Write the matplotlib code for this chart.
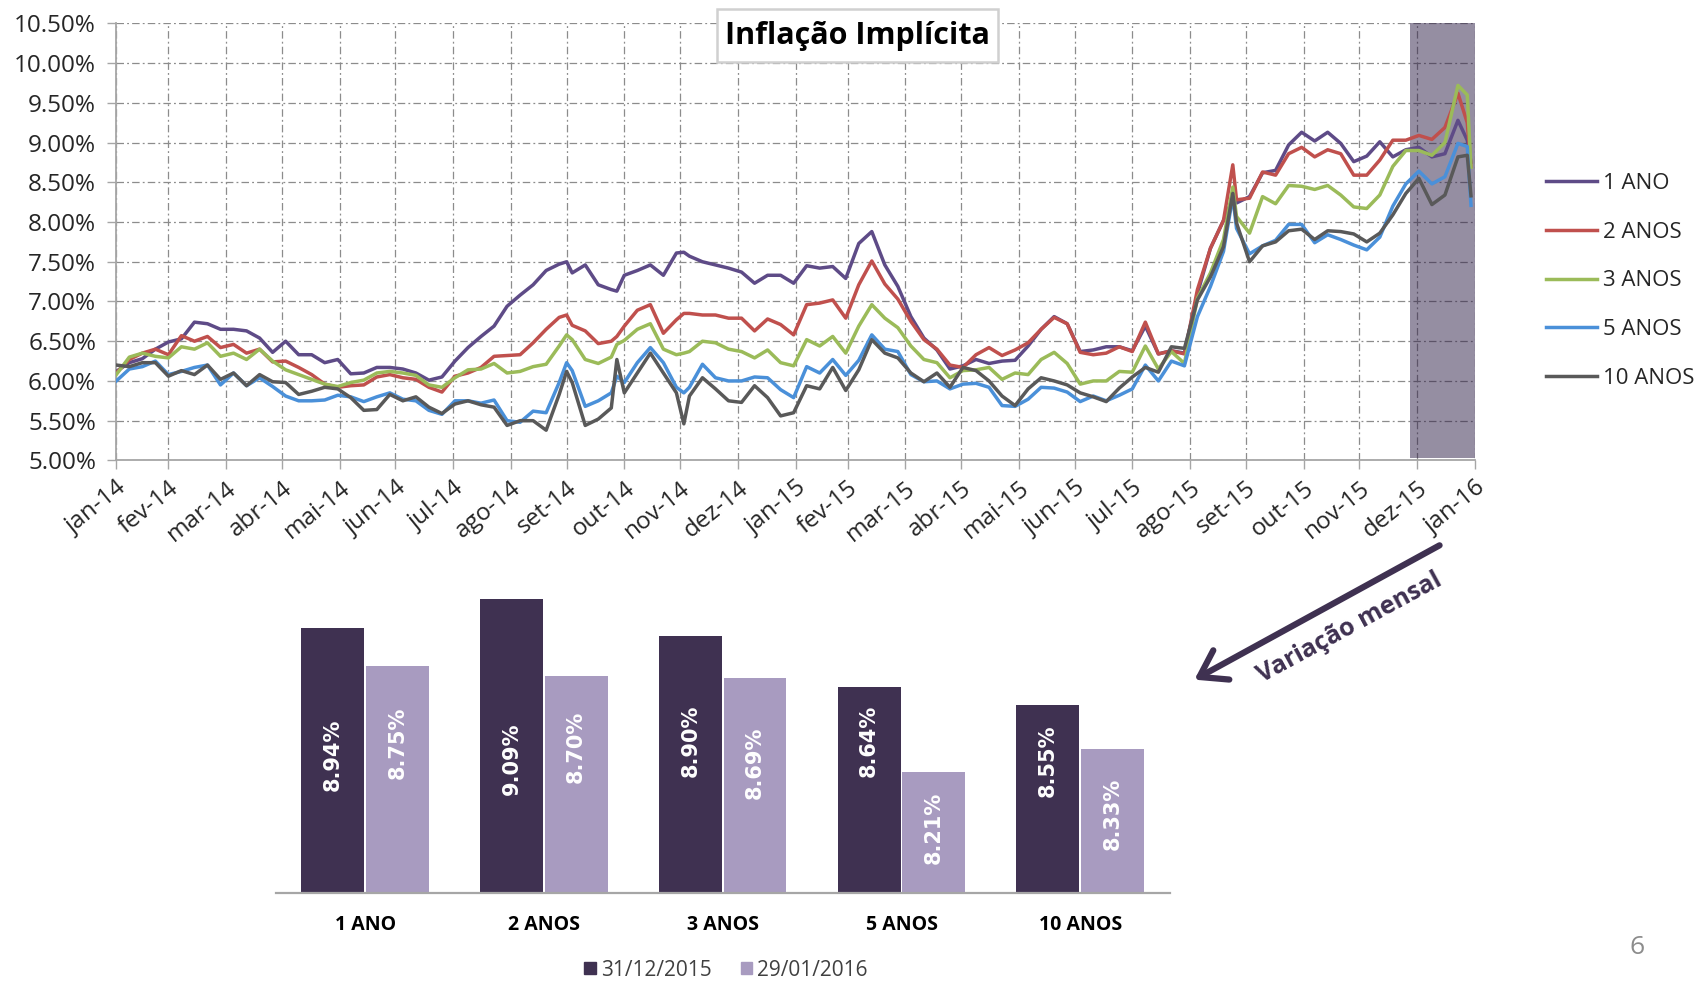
import matplotlib
matplotlib.use("Agg")
import matplotlib.pyplot as plt
import numpy as np
import pandas as pd
from matplotlib.patches import FancyArrowPatch, Patch, Rectangle

plt.rcParams['font.family'] = ['Open Sans', 'DejaVu Sans']

# ---------------- line chart data ----------------
week_dates = pd.date_range('2014-01-31', '2016-01-29', freq='7D')
extra_dates = pd.to_datetime(['2014-09-30', '2014-10-27', '2014-12-02', '2015-09-23', '2016-01-27'])

series_names = ['1 ANO', '2 ANOS', '3 ANOS', '5 ANOS', '10 ANOS']

ano1 = [6.12, 6.23, 6.28, 6.40, 6.49, 6.53, 6.74, 6.72, 6.65, 6.65,
        6.63, 6.54, 6.36, 6.50, 6.33, 6.33, 6.23, 6.27, 6.09, 6.10,
        6.17, 6.17, 6.15, 6.10, 6.01, 6.05, 6.25, 6.42, 6.56, 6.69,
        6.94, 7.08, 7.21, 7.39, 7.47, 7.36, 7.46, 7.21, 7.15, 7.33,
        7.39, 7.46, 7.33, 7.61, 7.57, 7.50, 7.46, 7.42, 7.37, 7.23,
        7.33, 7.33, 7.23, 7.45, 7.42, 7.44, 7.29, 7.73, 7.88, 7.46,
        7.19, 6.81, 6.54, 6.39, 6.15, 6.19, 6.27, 6.22, 6.25, 6.26,
        6.44, 6.65, 6.81, 6.72, 6.37, 6.39, 6.43, 6.43, 6.38, 6.69,
        6.34, 6.38, 6.35, 7.10, 7.67, 8.02, 8.24, 8.32, 8.62, 8.65,
        8.97, 9.13, 9.02, 9.13, 8.99, 8.76, 8.83, 9.01, 8.82, 8.91,
        8.94, 8.82, 8.86, 9.28, 8.75]
ano2 = [6.10, 6.27, 6.35, 6.40, 6.33, 6.57, 6.50, 6.56, 6.42, 6.46,
        6.35, 6.40, 6.24, 6.25, 6.17, 6.08, 5.96, 5.92, 5.94, 5.95,
        6.05, 6.08, 6.04, 6.02, 5.92, 5.86, 6.06, 6.10, 6.17, 6.31,
        6.32, 6.33, 6.48, 6.65, 6.80, 6.70, 6.63, 6.47, 6.50, 6.69,
        6.89, 6.96, 6.60, 6.77, 6.85, 6.83, 6.83, 6.79, 6.79, 6.63,
        6.78, 6.71, 6.58, 6.96, 6.98, 7.02, 6.79, 7.21, 7.51, 7.22,
        7.03, 6.75, 6.52, 6.40, 6.20, 6.17, 6.33, 6.42, 6.32, 6.39,
        6.48, 6.65, 6.80, 6.72, 6.36, 6.33, 6.35, 6.43, 6.37, 6.74,
        6.34, 6.38, 6.34, 7.15, 7.67, 8.02, 8.28, 8.30, 8.63, 8.59,
        8.86, 8.94, 8.82, 8.91, 8.86, 8.59, 8.59, 8.78, 9.03, 9.03,
        9.09, 9.04, 9.19, 9.62, 8.70]
ano3 = [6.08, 6.30, 6.35, 6.31, 6.29, 6.43, 6.40, 6.48, 6.31, 6.35,
        6.27, 6.40, 6.25, 6.14, 6.08, 6.02, 5.96, 5.93, 5.98, 6.01,
        6.10, 6.12, 6.10, 6.07, 5.95, 5.92, 6.04, 6.14, 6.15, 6.22,
        6.10, 6.12, 6.18, 6.21, 6.44, 6.52, 6.27, 6.22, 6.30, 6.51,
        6.65, 6.72, 6.40, 6.33, 6.37, 6.50, 6.48, 6.40, 6.37, 6.29,
        6.39, 6.23, 6.19, 6.52, 6.44, 6.56, 6.35, 6.69, 6.96, 6.79,
        6.67, 6.44, 6.27, 6.23, 6.04, 6.13, 6.14, 6.17, 6.02, 6.10,
        6.08, 6.27, 6.36, 6.22, 5.96, 6.00, 6.00, 6.12, 6.11, 6.44,
        6.15, 6.37, 6.22, 7.04, 7.36, 7.78, 8.07, 7.86, 8.32, 8.23,
        8.46, 8.45, 8.41, 8.46, 8.34, 8.19, 8.17, 8.34, 8.70, 8.90,
        8.90, 8.84, 9.00, 9.72, 8.69]
ano5 = [6.00, 6.15, 6.18, 6.25, 6.08, 6.12, 6.17, 6.20, 5.95, 6.10,
        5.94, 6.04, 5.93, 5.81, 5.75, 5.75, 5.76, 5.82, 5.80, 5.74,
        5.80, 5.85, 5.77, 5.75, 5.63, 5.58, 5.75, 5.75, 5.72, 5.76,
        5.50, 5.48, 5.62, 5.60, 5.98, 6.13, 5.68, 5.75, 5.85, 5.98,
        6.23, 6.42, 6.23, 5.92, 5.92, 6.21, 6.04, 6.00, 6.00, 6.05,
        6.04, 5.89, 5.79, 6.18, 6.10, 6.27, 6.07, 6.26, 6.58, 6.40,
        6.37, 6.08, 5.99, 6.00, 5.90, 5.96, 5.97, 5.92, 5.69, 5.68,
        5.77, 5.92, 5.91, 5.86, 5.74, 5.81, 5.75, 5.82, 5.90, 6.20,
        6.00, 6.25, 6.19, 6.81, 7.19, 7.63, 7.92, 7.60, 7.70, 7.77,
        7.97, 7.97, 7.74, 7.84, 7.78, 7.71, 7.65, 7.81, 8.20, 8.48,
        8.64, 8.48, 8.57, 8.99, 8.21]
ano10 = [6.20, 6.18, 6.23, 6.23, 6.06, 6.13, 6.08, 6.20, 6.02, 6.10,
         5.94, 6.08, 5.99, 5.98, 5.83, 5.87, 5.92, 5.90, 5.79, 5.63,
         5.64, 5.83, 5.75, 5.80, 5.67, 5.59, 5.71, 5.75, 5.70, 5.67,
         5.44, 5.50, 5.50, 5.38, 5.83, 5.98, 5.44, 5.52, 5.66, 5.85,
         6.10, 6.35, 6.10, 5.85, 5.81, 6.04, 5.90, 5.75, 5.73, 5.94,
         5.79, 5.56, 5.60, 5.94, 5.90, 6.17, 5.88, 6.14, 6.52, 6.35,
         6.29, 6.10, 5.99, 6.10, 5.92, 6.17, 6.13, 6.00, 5.81, 5.69,
         5.90, 6.04, 6.00, 5.95, 5.85, 5.80, 5.74, 5.91, 6.05, 6.17,
         6.11, 6.43, 6.41, 7.02, 7.31, 7.69, 7.99, 7.50, 7.70, 7.75,
         7.89, 7.91, 7.78, 7.89, 7.88, 7.85, 7.75, 7.86, 8.09, 8.36,
         8.55, 8.22, 8.34, 8.82, 8.33]

ano1_extra = [7.50, 7.13, 7.62, 8.30, 9.03]
ano2_extra = [6.83, 6.56, 6.85, 8.72, 9.25]
ano3_extra = [6.58, 6.46, 6.35, 8.44, 9.60]
ano5_extra = [6.23, 6.06, 5.85, 8.32, 8.95]
ano10_extra = [6.12, 6.27, 5.46, 8.36, 8.84]

tick_labels = ['jan-14', 'fev-14', 'mar-14', 'abr-14', 'mai-14', 'jun-14', 'jul-14',
               'ago-14', 'set-14', 'out-14', 'nov-14', 'dez-14', 'jan-15', 'fev-15',
               'mar-15', 'abr-15', 'mai-15', 'jun-15', 'jul-15', 'ago-15', 'set-15',
               'out-15', 'nov-15', 'dez-15', 'jan-16']
y_ticks = [5.0, 5.5, 6.0, 6.5, 7.0, 7.5, 8.0, 8.5, 9.0, 9.5, 10.0, 10.5]

# ---------------- bar chart data ----------------
bar_categories = ['1 ANO', '2 ANOS', '3 ANOS', '5 ANOS', '10 ANOS']
dez15 = [8.94, 9.09, 8.90, 8.64, 8.55]
jan16 = [8.75, 8.70, 8.69, 8.21, 8.33]
bar_series_labels = ['31/12/2015', '29/01/2016']

# layout: vertical centre of the rotated value labels (data units)
DEZ_LABEL_POS = [8.30, 8.28, 8.37, 8.37, 8.27]
JAN_LABEL_POS = [8.36, 8.34, 8.26, 7.93, 8.00]

line_colors = ['#5E4B87', '#C0504D', '#9BBB59', '#4A90D9', '#595959']
dark_bar = '#3F3151'
light_bar = '#A89BC0'
txt_col = '#262626'

W, H = 1698, 981
fig = plt.figure(figsize=(W / 100, H / 100), dpi=100)

# ---------------- line chart ----------------
L, R, T, B = 116.3, 1474.7, 23.4, 460.4
ax = fig.add_axes([L / W, 1 - B / H, (R - L) / W, (B - T) / H])

all_dates = week_dates.append(extra_dates)
lines = []
for name, vals, extra, col in zip(series_names,
                                  [ano1, ano2, ano3, ano5, ano10],
                                  [ano1_extra, ano2_extra, ano3_extra, ano5_extra, ano10_extra],
                                  line_colors):
    s = pd.Series(list(vals) + list(extra), index=all_dates).sort_index()
    ln, = ax.plot(s.index.to_pydatetime(), s.values, color=col, lw=2.5, label=name,
                  zorder=3, solid_joinstyle='round')
    lines.append(ln)

tick_dates = pd.date_range('2014-01-31', periods=len(tick_labels), freq=pd.offsets.MonthEnd())
ax.set_xlim(tick_dates[0].to_pydatetime(), tick_dates[-1].to_pydatetime())
ax.set_ylim(5.0, 10.5)
ax.set_xticks(tick_dates.to_pydatetime())
ax.set_xticklabels(tick_labels, rotation=39, ha='right', va='top', rotation_mode='anchor',
                   fontsize=17.5, color=txt_col)
ax.set_yticks(y_ticks)
ax.set_yticklabels([f'{v:.2f}%' for v in y_ticks], fontsize=17.5, color=txt_col)
ax.tick_params(axis='x', direction='out', length=6.5, width=1.0, color='#A6A6A6', pad=5)
ax.tick_params(axis='y', direction='out', length=6.5, width=1.0, color='#A6A6A6', pad=8)

grid_style = dict(color='#8C8C8C', lw=0.9, linestyle=(0, (6, 2.5, 1.5, 2.5)))
ax.grid(True, **grid_style, zorder=0)
ax.set_axisbelow(True)
for sp in ['top', 'right']:
    ax.spines[sp].set_visible(False)
for sp in ['left', 'bottom']:
    ax.spines[sp].set_color('#A6A6A6')
    ax.spines[sp].set_linewidth(1.3)

# shaded month
ax.axvspan(pd.Timestamp('2015-12-27').to_pydatetime(), tick_dates[-1].to_pydatetime(),
           ymin=0.006, ymax=1.0, color='#2D1E46', alpha=0.5, lw=0, zorder=2)

# title box
ax.add_patch(Rectangle((0.4422, 0.9117), 0.2069, 0.1216, transform=ax.transAxes,
                       fc='white', ec='#D0D0D0', lw=1.8, zorder=9, clip_on=False))
ax.text(0.5457, 0.9723, 'Inflação Implícita', transform=ax.transAxes, ha='center', va='center',
        fontsize=22, fontweight='bold', color='black', zorder=10)

# legend
ax.legend(handles=lines, loc='center left', bbox_to_anchor=(1546 / W, 1 - 281 / H),
          bbox_transform=fig.transFigure, frameon=False, fontsize=16,
          handlelength=2.3, handletextpad=0.25, labelspacing=1.25,
          borderpad=0, borderaxespad=0, labelcolor=txt_col)

# ---------------- bar chart ----------------
bx0, bx1, by_top, by_base = 276, 1170, 560, 893
ax2 = fig.add_axes([bx0 / W, 1 - by_base / H, (bx1 - bx0) / W, (by_base - by_top) / H])
x = np.arange(len(bar_categories))
bw = 0.352
b1 = ax2.bar(x - 0.183, dez15, width=bw, color=dark_bar, zorder=2)
b2 = ax2.bar(x + 0.179, jan16, width=bw, color=light_bar, zorder=2)
ax2.set_ylim(7.6, 9.285)
ax2.set_xlim(-0.5, len(bar_categories) - 0.5)
for i in range(len(x)):
    ax2.text(x[i] - 0.183, DEZ_LABEL_POS[i], f'{dez15[i]:.2f}%', rotation=90, ha='center',
             va='center', color='white', fontsize=15, fontweight='bold', family='DejaVu Sans')
    ax2.text(x[i] + 0.179, JAN_LABEL_POS[i], f'{jan16[i]:.2f}%', rotation=90, ha='center',
             va='center', color='white', fontsize=15, fontweight='bold', family='DejaVu Sans')
ax2.set_yticks([])
ax2.set_xticks(x)
ax2.set_xticklabels(bar_categories, fontsize=14, fontweight='bold', color='black')
ax2.tick_params(axis='x', length=0, pad=16)
for sp in ['top', 'right', 'left']:
    ax2.spines[sp].set_visible(False)
ax2.spines['bottom'].set_color('#A6A6A6')
ax2.spines['bottom'].set_linewidth(1.6)
ax2.patch.set_alpha(0)

fig.legend(handles=[Patch(color=dark_bar), Patch(color=light_bar)], labels=bar_series_labels,
           loc='center', bbox_to_anchor=(726 / W, 1 - 970 / H), ncol=2, frameon=False,
           fontsize=15, handlelength=0.55, handleheight=0.55, handletextpad=0.25,
           columnspacing=1.4, labelcolor='#404040')

# ---------------- annotation arrow ----------------
arrow = FancyArrowPatch((1442 / W, 1 - 544 / H), (1192 / W, 1 - 681 / H),
                        transform=fig.transFigure,
                        arrowstyle='->,head_length=0.45,head_width=0.3',
                        mutation_scale=40, lw=4.5, color=dark_bar, capstyle='round',
                        joinstyle='round')
fig.add_artist(arrow)
fig.text(1350 / W, 1 - 628 / H, 'Variação mensal', rotation=28.5, rotation_mode='anchor',
         ha='center', va='center', fontsize=18, fontweight='bold', color=dark_bar)

fig.text(1637 / W, 1 - 947 / H, '6', fontsize=19, color='#8C8C8C', ha='center', va='center')

fig.savefig('out.png', dpi=100, facecolor='white')
